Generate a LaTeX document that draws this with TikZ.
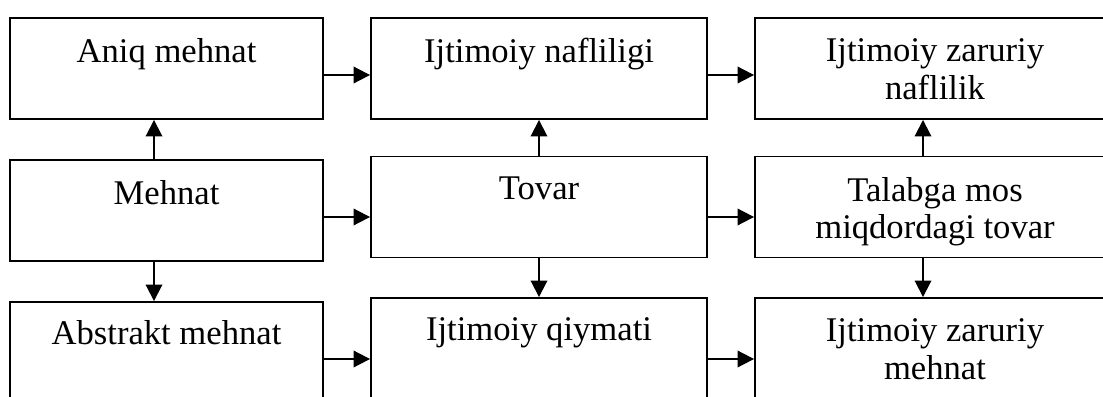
\documentclass[tikz,border=0pt]{standalone}
\usepackage{fontspec}
\setmainfont{Liberation Serif}
\usetikzlibrary{arrows.meta}
\tikzset{>={Triangle[length=0.33cm,width=0.33cm]}}
\tikzset{
  blok/.style={draw, line width=1.1pt, minimum height=2.02cm, inner sep=0pt},
  chap/.style={blok, minimum width=6.26cm},
  orta/.style={blok, minimum width=6.72cm},
  ong/.style={blok, minimum width=7.2cm},
  matn/.style={anchor=north, align=center, inner sep=0pt, font=\fontsize{19.7}{21.5}\selectfont},
}

\begin{document}
\begin{tikzpicture}[x=0.02cm, y=-0.02cm, line width=1.1pt]
  \useasboundingbox (0,0) rectangle (1103,396);
  \clip (0,0) rectangle (1103,396);
  % bloklar
  \node[chap] (aniq) at (166.5,68.5) {};
  \node[orta] (nafl) at (539,68.5) {};
  \node[ong] (zarnaf) at (935,68.5) {};
  \node[chap] (mehnat) at (166.5,210.5) {};
  \node[orta] (tovar) at (539,207) {};
  \node[ong] (talab) at (935,207) {};
  \node[chap] (abstr) at (166.5,352.5) {};
  \node[orta] (qiymat) at (539,348.5) {};
  \node[ong] (zarmeh) at (935,348.5) {};
  % matnlar
  \node[matn] (t-aniq) at ([yshift=-0.41cm]aniq.north) {Aniq mehnat};
  \node[matn] (t-nafl) at ([yshift=-0.41cm]nafl.north) {Ijtimoiy nafliligi};
  \node[matn] (t-zarnaf) at ([yshift=-0.41cm]zarnaf.north) {Ijtimoiy zaruriy\\naflilik};
  \node[matn] (t-mehnat) at ([yshift=-0.41cm]mehnat.north) {Mehnat};
  \node[matn] (t-tovar) at ([yshift=-0.41cm]tovar.north) {Tovar};
  \node[matn] (t-talab) at ([yshift=-0.41cm]talab.north) {Talabga mos\\miqdordagi tovar};
  \node[matn] (t-abstr) at ([yshift=-0.36cm]abstr.north) {Abstrakt mehnat};
  \node[matn] (t-qiymat) at ([yshift=-0.39cm]qiymat.north) {Ijtimoiy qiymati};
  \node[matn] (t-zarmeh) at ([yshift=-0.41cm]zarmeh.north) {Ijtimoiy zaruriy\\mehnat};
  % gorizontal strelkalar
  \draw[->] ([yshift=-0.13cm]aniq.east) -- ([yshift=-0.13cm]aniq.east -| nafl.west);
  \draw[->] ([yshift=-0.13cm]nafl.east) -- ([yshift=-0.13cm]nafl.east -| zarnaf.west);
  \draw[->] ([yshift=-0.13cm]mehnat.east) -- ([yshift=-0.13cm]mehnat.east -| tovar.west);
  \draw[->] ([yshift=-0.2cm]tovar.east) -- ([yshift=-0.2cm]tovar.east -| talab.west);
  \draw[->] ([yshift=-0.13cm]abstr.east) -- ([yshift=-0.13cm]abstr.east -| qiymat.west);
  \draw[->] ([yshift=-0.21cm]qiymat.east) -- ([yshift=-0.21cm]qiymat.east -| zarmeh.west);
  % vertikal strelkalar
  \draw[->] ([xshift=-0.25cm]mehnat.north) -- ([xshift=-0.25cm]aniq.south);
  \draw[->] ([xshift=-0.25cm]mehnat.south) -- ([xshift=-0.25cm]abstr.north);
  \draw[->] (tovar.north) -- (nafl.south);
  \draw[->] (tovar.south) -- (qiymat.north);
  \draw[->] ([xshift=-0.24cm]talab.north) -- ([xshift=-0.24cm]zarnaf.south);
  \draw[->] ([xshift=-0.24cm]talab.south) -- ([xshift=-0.24cm]zarmeh.north);
\end{tikzpicture}
\end{document}
